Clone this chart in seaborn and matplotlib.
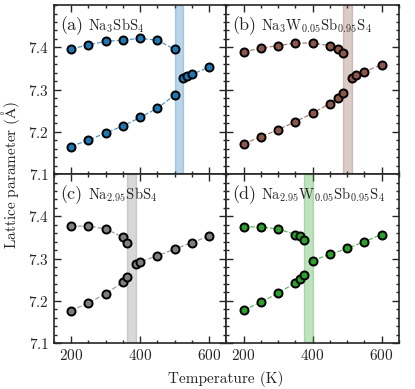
import numpy as np
import matplotlib
matplotlib.use('Agg')
import matplotlib.pyplot as plt
import seaborn as sns
from matplotlib.ticker import MultipleLocator

# (a) Na3SbS4
a_low_T = [200, 250, 300, 350, 400, 450, 500]
a_up = [7.396, 7.406, 7.414, 7.417, 7.421, 7.417, 7.395]
a_dn = [7.165, 7.181, 7.197, 7.214, 7.234, 7.256, 7.287]
a_high_T = [525, 537, 550, 600]
a_high = [7.328, 7.331, 7.336, 7.353]
a_span = (500, 525)

# (b) Na3W0.05Sb0.95S4
b_low_T = [200, 250, 300, 350, 400, 450, 475, 488]
b_up = [7.389, 7.398, 7.404, 7.410, 7.410, 7.404, 7.395, 7.387]
b_dn = [7.172, 7.188, 7.205, 7.224, 7.244, 7.267, 7.281, 7.291]
b_high_T = [513, 525, 550, 600]
b_high = [7.328, 7.334, 7.342, 7.359]
b_span = (488, 513)

# (c) Na2.95SbS4
c_low_T = [200, 250, 300, 350, 362.5]
c_up = [7.377, 7.377, 7.370, 7.351, 7.338]
c_dn = [7.177, 7.195, 7.217, 7.244, 7.256]
c_high_T = [387.5, 400, 450, 500, 550, 600]
c_high = [7.288, 7.292, 7.307, 7.322, 7.338, 7.353]
c_span = (362.5, 387.5)

# (d) Na2.95W0.05Sb0.95S4
d_low_T = [200, 250, 300, 350, 362.5, 375]
d_up = [7.375, 7.375, 7.370, 7.357, 7.353, 7.344]
d_dn = [7.178, 7.197, 7.218, 7.243, 7.251, 7.260]
d_high_T = [400, 450, 500, 550, 600]
d_high = [7.295, 7.310, 7.324, 7.340, 7.357]
d_span = (375, 400)

panels = [
    ('(a)', r'Na$_3$SbS$_4$', '#1f77b4', a_low_T, a_up, a_dn, a_high_T, a_high, a_span),
    ('(b)', r'Na$_3$W$_{0.05}$Sb$_{0.95}$S$_4$', '#8c564b', b_low_T, b_up, b_dn, b_high_T, b_high, b_span),
    ('(c)', r'Na$_{2.95}$SbS$_4$', '#7f7f7f', c_low_T, c_up, c_dn, c_high_T, c_high, c_span),
    ('(d)', r'Na$_{2.95}$W$_{0.05}$Sb$_{0.95}$S$_4$', '#2ca02c', d_low_T, d_up, d_dn, d_high_T, d_high, d_span),
]

sns.set_style('ticks')
plt.rcParams['font.family'] = 'serif'
plt.rcParams['font.serif'] = ['cmr10', 'DejaVu Serif']
plt.rcParams['mathtext.fontset'] = 'cm'
plt.rcParams['axes.formatter.use_mathtext'] = True
plt.rcParams['axes.unicode_minus'] = False

fig, axes = plt.subplots(2, 2, figsize=(4.15, 3.89), dpi=100, sharex=True, sharey=True)
fig.subplots_adjust(left=0.130, right=0.961, top=0.987, bottom=0.118, hspace=0, wspace=0)

for ax, (lab, name, col, lT, up, dn, hT, hi, span) in zip(axes.flat, panels):
    ax.axvspan(span[0], span[1], color=col, alpha=0.3, lw=1)
    for xs, ys in [(lT, up), (lT, dn), (hT, hi)]:
        sns.lineplot(x=xs, y=ys, ax=ax, color=col, linestyle='--', lw=0.9, alpha=0.75,
                     estimator=None, sort=False)
        ax.plot(xs, ys, 'o', ms=5.8, mfc=col, mec='black', mew=1.4, zorder=3)
    ax.text(0.035, 0.935, lab, transform=ax.transAxes, fontsize=13, va='top')
    ax.text(0.2, 0.935, name, transform=ax.transAxes, fontsize=10.5, va='top')
    ax.set_xlim(150, 650)
    ax.set_ylim(7.1, 7.5)
    ax.xaxis.set_major_locator(MultipleLocator(200))
    ax.xaxis.set_minor_locator(MultipleLocator(50))
    ax.yaxis.set_major_locator(MultipleLocator(0.1))
    ax.yaxis.set_minor_locator(MultipleLocator(0.02))
    ax.tick_params(which='both', direction='in', top=True, right=True, labelsize=11, width=1)
    ax.tick_params(which='major', length=5)
    ax.tick_params(which='minor', length=2.5)
    for s in ax.spines.values():
        s.set_linewidth(1.2)
    ax.set_yticks([7.1, 7.2, 7.3, 7.4])

fig.text(0.025, 0.55, r'Lattice parameter ($\mathrm{\AA}$)', rotation=90, ha='center', va='center', fontsize=11)
fig.text(0.545, 0.025, 'Temperature (K)', ha='center', va='center', fontsize=11)

fig.savefig('out.png', dpi=100)
